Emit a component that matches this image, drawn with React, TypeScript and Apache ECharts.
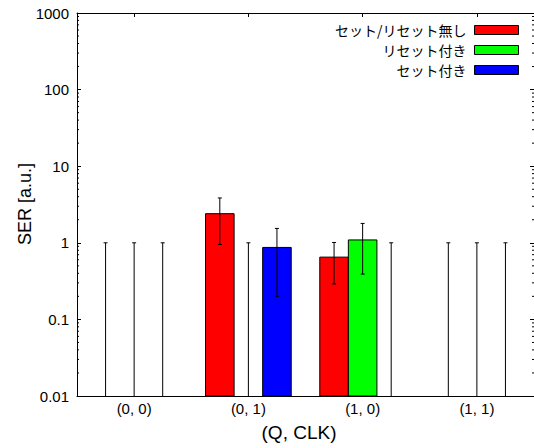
import React, { useEffect, useRef } from "react";
import * as echarts from "echarts";

const categories = ["(0, 0)", "(0, 1)", "(1, 0)", "(1, 1)"];
const seriesNames = ["セット/リセット無し", "リセット付き", "セット付き"];
const noneValues = [0, 2.4, 0.65, 0];
const noneErrors = [1, 1.45, 0.36, 1];
const resetValues = [0, 0, 1.09, 0];
const resetErrors = [1, 1, 0.7, 1];
const setValues = [0, 0.87, 0, 0];
const setErrors = [1, 0.67, 1, 1];
const colors = ["#ff0000", "#00ff00", "#0000ff"];
const Y_MIN = 0.01;
const Y_MAX = 1000;
const minorMantissas = [2, 3, 4, 5, 6, 7, 8, 9];
const minorDecades = [0.01, 0.1, 1, 10, 100];

const FONT = "'Liberation Sans', Arial, 'Noto Sans CJK JP', sans-serif";

export default function App() {
  const ref = useRef<HTMLDivElement>(null);
  useEffect(() => {
    if (!ref.current) return;
    const chart = echarts.init(ref.current, undefined, { renderer: "svg" });
    const valueSets = [noneValues, resetValues, setValues];
    const errSets = [noneErrors, resetErrors, setErrors];

    const makeRender = (s: number) => (params: any, api: any) => {
      const idx = api.value(0);
      const v = api.value(1);
      const e = api.value(2);
      const cw = api.coord([1, 1])[0] - api.coord([0, 1])[0];
      const bw = cw * 0.25;
      const cx = api.coord([idx, 1])[0] + (s - 1) * bw;
      const yBase = api.coord([idx, Y_MIN])[1];
      const children: any[] = [];
      if (v > 0) {
        const yTop = api.coord([idx, v])[1];
        children.push({
          type: "rect",
          shape: { x: cx - bw / 2, y: yTop, width: bw, height: yBase - yTop },
          style: { fill: colors[s], stroke: "#000", lineWidth: 1 },
        });
      }
      const lo = v - e;
      const hi = v + e;
      const yHi = api.coord([idx, hi])[1];
      const yLo = lo > Y_MIN ? api.coord([idx, lo])[1] : yBase;
      const ls = { stroke: "#000", lineWidth: 1 };
      children.push({ type: "line", shape: { x1: cx, y1: yLo, x2: cx, y2: yHi }, style: ls });
      children.push({ type: "line", shape: { x1: cx - 2, y1: yHi, x2: cx + 2, y2: yHi }, style: ls });
      if (lo > Y_MIN) {
        children.push({ type: "line", shape: { x1: cx - 2, y1: yLo, x2: cx + 2, y2: yLo }, style: ls });
      }
      return { type: "group", children };
    };

    const minorData: number[][] = [];
    minorDecades.forEach((d) => minorMantissas.forEach((m) => minorData.push([0, m * d])));

    const barSeries = seriesNames.map((name, s) => ({
      name,
      type: "custom",
      renderItem: makeRender(s),
      itemStyle: { color: colors[s], borderColor: "#000", borderWidth: 1 },
      encode: { x: 0, y: 1 },
      data: categories.map((_, i) => [i, valueSets[s][i], errSets[s][i]]),
      z: 3,
    }));

    chart.setOption({
      animation: false,
      textStyle: { fontFamily: FONT },
      grid: { left: 77, top: 13, width: 459, height: 383 },
      legend: {
        data: seriesNames,
        orient: "vertical",
        right: 10,
        top: 18,
        align: "right",
        itemWidth: 44,
        itemHeight: 9,
        itemGap: 6,
        icon: "rect",
        itemStyle: { borderColor: "#000", borderWidth: 1 },
        formatter: (name: string) => "{t|" + name + "}",
        textStyle: {
          fontSize: 14,
          color: "#000",
          lineHeight: 14,
          fontFamily: "'Noto Sans CJK JP', sans-serif",
          rich: {
            t: {
              fontSize: 14,
              color: "#000",
              lineHeight: 14,
              fontFamily: "'Noto Sans CJK JP', sans-serif",
              padding: [0, 3, 0, 0],
            },
          },
        },
        selectedMode: false,
      },
      xAxis: [
        {
          type: "category",
          data: categories,
          position: "bottom",
          axisLine: { lineStyle: { color: "#000", width: 1 } },
          axisTick: { show: false },
          axisLabel: { color: "#000", fontSize: 15, margin: 5, fontFamily: FONT },
          splitLine: { show: false },
        },
        {
          type: "category",
          data: categories,
          position: "top",
          axisLine: { lineStyle: { color: "#000", width: 1 } },
          axisTick: { show: true, inside: true, alignWithLabel: true, length: 4, lineStyle: { color: "#000" } },
          axisLabel: { show: false },
          splitLine: { show: false },
        },
      ],
      yAxis: [
        {
          type: "log",
          logBase: 10,
          min: Y_MIN,
          max: Y_MAX,
          position: "left",
          axisLine: { show: true, lineStyle: { color: "#000", width: 1 } },
          axisTick: { show: true, inside: true, length: 4, lineStyle: { color: "#000" } },
          axisLabel: {
            color: "#000",
            fontSize: 15,
            margin: 8,
            fontFamily: FONT,
            formatter: (v: number) => String(+v.toPrecision(3)),
          },
          splitLine: { show: false },
        },
        {
          type: "log",
          logBase: 10,
          min: Y_MIN,
          max: Y_MAX,
          position: "right",
          axisLine: { show: true, lineStyle: { color: "#000", width: 1 } },
          axisTick: { show: true, inside: true, length: 4, lineStyle: { color: "#000" } },
          axisLabel: { show: false },
          splitLine: { show: false },
        },
      ],
      graphic: [
        {
          type: "text",
          x: 25,
          y: 204,
          rotation: Math.PI / 2,
          style: {
            text: "SER [a.u.]",
            fontSize: 18,
            fontFamily: FONT,
            fill: "#000",
            align: "center",
            verticalAlign: "middle",
          },
        },
        {
          type: "text",
          x: 299,
          y: 432,
          style: {
            text: "(Q, CLK)",
            fontSize: 19,
            fontFamily: FONT,
            fill: "#000",
            align: "center",
            verticalAlign: "middle",
          },
        },
      ],
      series: [
        ...barSeries,
        {
          name: "minorTicks",
          type: "custom",
          silent: true,
          encode: { x: 0, y: 1 },
          data: minorData,
          renderItem: (params: any, api: any) => {
            const cs = params.coordSys;
            const y = api.coord([0, api.value(1)])[1];
            const ls = { stroke: "#000", lineWidth: 1 };
            return {
              type: "group",
              children: [
                { type: "line", shape: { x1: cs.x, y1: y, x2: cs.x + 2, y2: y }, style: ls },
                { type: "line", shape: { x1: cs.x + cs.width - 2, y1: y, x2: cs.x + cs.width, y2: y }, style: ls },
              ],
            };
          },
        },
      ],
    });
    return () => chart.dispose();
  }, []);
  return (
    <div
      ref={ref}
      style={{ position: "fixed", left: 0, top: 0, width: 534, height: 448, background: "#fff" }}
    />
  );
}
